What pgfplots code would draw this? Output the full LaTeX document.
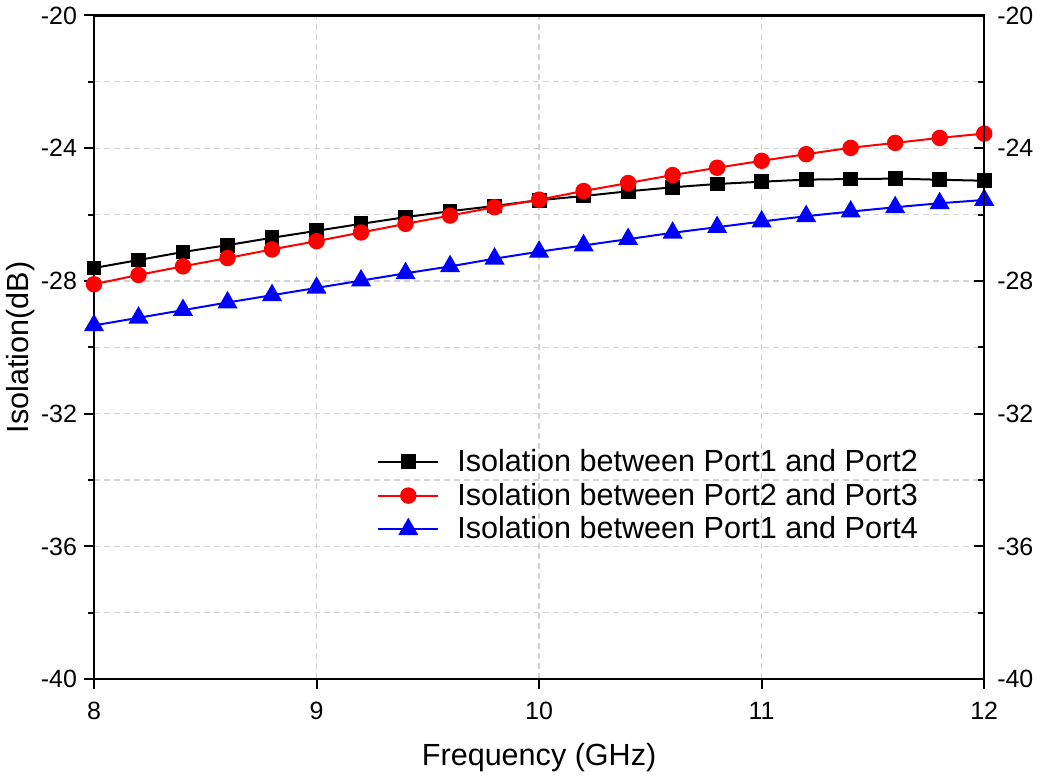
\documentclass[border=0pt]{standalone}
\usepackage{fontspec}
\setmainfont{Liberation Sans}
\usepackage{pgfplots}
\pgfplotsset{compat=1.18}
\begin{document}
\begin{tikzpicture}
\pgfplotsset{
  common/.style={
    scale only axis, width=444bp, height=331bp,
    xmin=8, xmax=12, ymin=-40, ymax=-20,
    xtick={8,9,10,11,12},
    ytick={-40,-36,-32,-28,-24,-20},
    minor ytick={-38,-34,-30,-26,-22},
    /pgf/number format/assume math mode=true,
    ticklabel style={font=\fontsize{12.5}{15}\selectfont},
    tick style={black, line width=1pt},
    major tick length=5bp, minor tick length=3bp,
    axis line style={line width=1.2pt},
  }
}
\begin{axis}[common,
  tick align=outside,
  xtick pos=bottom, ytick pos=left,
  xticklabel style={yshift=-3bp},
  grid=both,
  major grid style={densely dashed, gray!35, line width=0.6pt},
  minor grid style={densely dashed, gray!35, line width=0.6pt},
  xlabel={Frequency (GHz)}, ylabel={Isolation(dB)},
  label style={font=\fontsize{15.3}{18}\selectfont},
  xlabel style={yshift=-5bp},
  ylabel style={yshift=-4bp},
  legend style={draw=none, fill=none, at={(0.311,0.359)}, anchor=north west,
    font=\fontsize{15.3}{18}\selectfont, row sep=0.3bp},
  legend cell align=left,
  legend image code/.code={\draw[mark repeat=2,mark phase=2] plot coordinates {(0bp,0bp) (15bp,0bp) (30bp,0bp)}; \path (37bp,0bp);},
]
\addplot[black, line width=1pt, smooth, mark=square*, mark size=3.2bp, mark options={solid}] coordinates {
(8.0,-27.61) (8.2,-27.37) (8.4,-27.13) (8.6,-26.92) (8.8,-26.70) (9.0,-26.49)
(9.2,-26.28) (9.4,-26.08) (9.6,-25.90) (9.8,-25.74) (10.0,-25.57) (10.2,-25.44)
(10.4,-25.30) (10.6,-25.18) (10.8,-25.08) (11.0,-25.01) (11.2,-24.95) (11.4,-24.93)
(11.6,-24.92) (11.8,-24.95) (12.0,-24.98)};
\addlegendentry{Isolation between Port1 and Port2}
\addplot[red, line width=1pt, smooth, mark=*, mark size=3.6bp, mark options={solid}] coordinates {
(8.0,-28.10) (8.2,-27.82) (8.4,-27.56) (8.6,-27.31) (8.8,-27.05) (9.0,-26.80)
(9.2,-26.54) (9.4,-26.28) (9.6,-26.03) (9.8,-25.78) (10.0,-25.55) (10.2,-25.29)
(10.4,-25.05) (10.6,-24.81) (10.8,-24.59) (11.0,-24.38) (11.2,-24.18) (11.4,-23.99)
(11.6,-23.84) (11.8,-23.69) (12.0,-23.56)};
\addlegendentry{Isolation between Port2 and Port3}
\addplot[blue, line width=1pt, smooth, mark=triangle*, mark size=4.8bp, mark options={solid}] coordinates {
(8.0,-29.34) (8.2,-29.11) (8.4,-28.88) (8.6,-28.65) (8.8,-28.43) (9.0,-28.21)
(9.2,-27.99) (9.4,-27.77) (9.6,-27.56) (9.8,-27.33) (10.0,-27.12) (10.2,-26.93)
(10.4,-26.74) (10.6,-26.55) (10.8,-26.38) (11.0,-26.21) (11.2,-26.05) (11.4,-25.91)
(11.6,-25.78) (11.8,-25.66) (12.0,-25.56)};
\addlegendentry{Isolation between Port1 and Port4}
\end{axis}
\begin{axis}[common,
  tick align=inside,
  axis x line=none, axis y line*=right,
  yticklabel pos=right,
  yticklabel style={xshift=3bp},
]
\end{axis}
\end{tikzpicture}
\end{document}
